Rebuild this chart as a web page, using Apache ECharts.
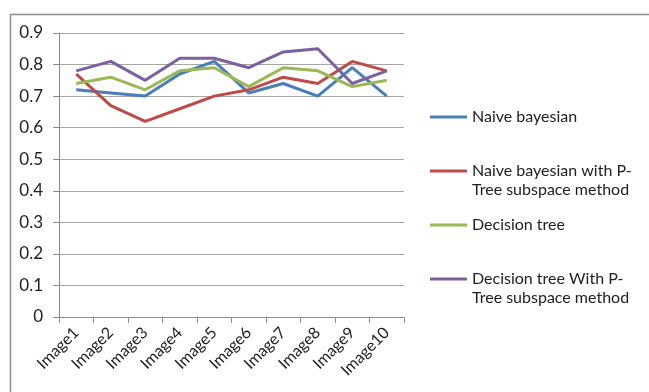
<!DOCTYPE html>
<html>
<head>
<meta charset="utf-8">
<script src="https://cdn.jsdelivr.net/npm/echarts@6/dist/echarts.min.js"></script>
<style>
  html, body { margin: 0; padding: 0; background: #fff; }
  #chart { width: 649px; height: 392px; }
</style>
</head>
<body>
<div id="chart"></div>
<script>
// categories on the x axis
const categories = ["Image1", "Image2", "Image3", "Image4", "Image5",
                    "Image6", "Image7", "Image8", "Image9", "Image10"];

// series values
const naiveBayes     = [0.72, 0.71, 0.70, 0.77, 0.81, 0.71, 0.74, 0.70, 0.79, 0.70];
const naiveBayesPT   = [0.77, 0.67, 0.62, 0.66, 0.70, 0.72, 0.76, 0.74, 0.81, 0.78];
const decisionTree   = [0.74, 0.76, 0.72, 0.78, 0.79, 0.73, 0.79, 0.78, 0.73, 0.75];
const decisionTreePT = [0.78, 0.81, 0.75, 0.82, 0.82, 0.79, 0.84, 0.85, 0.74, 0.78];

const seriesNames = [
  "Naive bayesian",
  "Naive bayesian with P-",
  "Decision tree",
  "Decision tree With P-"
];
const colors = ["#4A7EBB", "#BE4B48", "#98B954", "#7D60A0"];
const font = "Lato";

const chart = echarts.init(document.getElementById("chart"));

function line(name, data) {
  return {
    name: name,
    type: "line",
    data: data,
    symbol: "none",
    lineStyle: { width: 3 },
    animation: false
  };
}

chart.setOption({
  color: colors,
  grid: { left: 59, right: 245, top: 33, bottom: 75 },
  xAxis: {
    type: "category",
    data: categories,
    boundaryGap: true,
    axisLine: { lineStyle: { color: "#8c8c8c", width: 1 } },
    axisTick: { show: true, length: 6, lineStyle: { color: "#8c8c8c" } },
    axisLabel: {
      rotate: 45, margin: 13, interval: 0,
      color: "#222", fontFamily: font, fontSize: 16
    }
  },
  yAxis: {
    type: "value",
    min: 0, max: 0.9, interval: 0.1,
    axisLine: { show: true, lineStyle: { color: "#8c8c8c" } },
    axisTick: { show: true, length: 6, lineStyle: { color: "#8c8c8c" } },
    splitLine: { lineStyle: { color: "#a6a6a6" } },
    axisLabel: {
      margin: 16, color: "#222", fontFamily: font, fontSize: 17,
      formatter: v => (Math.round(v * 10) / 10).toString()
    }
  },
  legend: {
    orient: "vertical",
    left: 425, top: 104,
    icon: "rect",
    itemWidth: 37, itemHeight: 3,
    itemGap: 38,
    data: seriesNames,
    textStyle: { color: "#222", fontFamily: font, fontSize: 16 }
  },
  graphic: [
    { type: "rect", left: 8, top: 12, shape: { width: 700, height: 400 },
      style: { fill: "none", stroke: "#8c8c8c", lineWidth: 1.5 }, silent: true },
    { type: "text", left: 472, top: 182,
      style: { text: "Tree subspace method", fill: "#222", font: "16px " + font } },
    { type: "text", left: 472, top: 290,
      style: { text: "Tree subspace method", fill: "#222", font: "16px " + font } }
  ],
  series: [
    line(seriesNames[0], naiveBayes),
    line(seriesNames[1], naiveBayesPT),
    line(seriesNames[2], decisionTree),
    line(seriesNames[3], decisionTreePT)
  ]
});
</script>
</body>
</html>
